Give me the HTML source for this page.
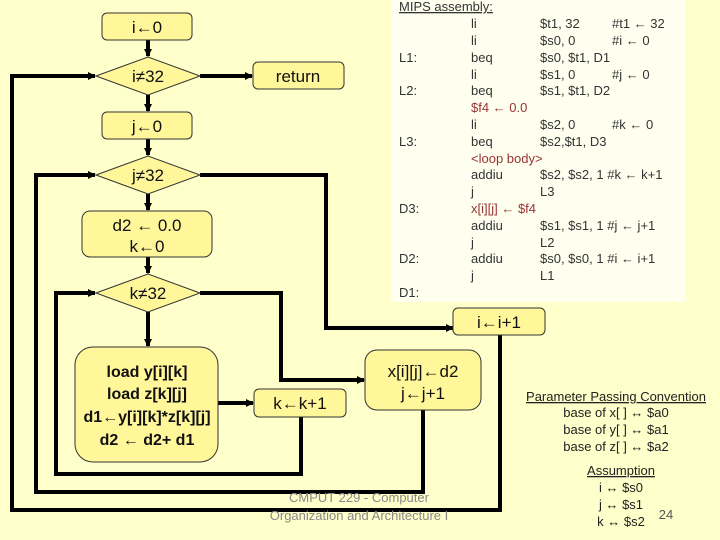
<!DOCTYPE html>
<html><head><meta charset="utf-8"><style>
html,body{margin:0;padding:0;background:#FFFFCC;}
svg{display:block;font-family:"Liberation Sans",sans-serif;}
</style></head><body>
<svg width="720" height="540" viewBox="0 0 720 540" xmlns="http://www.w3.org/2000/svg">
<defs><marker id="a" markerWidth="8" markerHeight="8" refX="7" refY="4" orient="auto" markerUnits="userSpaceOnUse"><path d="M0,0 L8,4 L0,8 z" fill="#000"/></marker></defs>
<rect width="720" height="540" fill="#FFFFCC"/>
<!-- code box -->
<rect x="391" y="0" width="294" height="302" fill="#FFFFF0"/>
<g font-size="13" fill="#333">
<text x="399" y="11" text-decoration="underline">MIPS assembly:</text>
<text y="28"><tspan x="471">li</tspan><tspan x="540">$t1, 32</tspan><tspan x="612">#t1 ← 32</tspan></text>
<text y="45"><tspan x="471">li</tspan><tspan x="540">$s0, 0</tspan><tspan x="612">#i ← 0</tspan></text>
<text y="62"><tspan x="399">L1:</tspan><tspan x="471">beq</tspan><tspan x="540">$s0, $t1, D1</tspan></text>
<text y="79"><tspan x="471">li</tspan><tspan x="540">$s1, 0</tspan><tspan x="612">#j ← 0</tspan></text>
<text y="95"><tspan x="399">L2:</tspan><tspan x="471">beq</tspan><tspan x="540">$s1, $t1, D2</tspan></text>
<text y="112" x="471" fill="#993333">$f4 ← 0.0</text>
<text y="129"><tspan x="471">li</tspan><tspan x="540">$s2, 0</tspan><tspan x="612">#k ← 0</tspan></text>
<text y="146"><tspan x="399">L3:</tspan><tspan x="471">beq</tspan><tspan x="540">$s2,$t1, D3</tspan></text>
<text y="163" x="471" fill="#993333">&lt;loop body&gt;</text>
<text y="179"><tspan x="471">addiu</tspan><tspan x="540">$s2, $s2, 1 #k ← k+1</tspan></text>
<text y="196"><tspan x="471">j</tspan><tspan x="540">L3</tspan></text>
<text y="213"><tspan x="399">D3:</tspan><tspan x="471" fill="#993333">x[i][j] ← $f4</tspan></text>
<text y="230"><tspan x="471">addiu</tspan><tspan x="540">$s1, $s1, 1 #j ← j+1</tspan></text>
<text y="247"><tspan x="471">j</tspan><tspan x="540">L2</tspan></text>
<text y="263"><tspan x="399">D2:</tspan><tspan x="471">addiu</tspan><tspan x="540">$s0, $s0, 1 #i ← i+1</tspan></text>
<text y="280"><tspan x="471">j</tspan><tspan x="540">L1</tspan></text>
<text y="297" x="399">D1:</text>
</g>
<!-- connectors -->
<g stroke="#000" stroke-width="4" fill="none">
<line x1="148" y1="40" x2="148" y2="56" marker-end="url(#a)"/>
<line x1="148" y1="95" x2="148" y2="111" marker-end="url(#a)"/>
<line x1="148" y1="139" x2="148" y2="155" marker-end="url(#a)"/>
<line x1="148" y1="194" x2="148" y2="210" marker-end="url(#a)"/>
<line x1="148" y1="257" x2="148" y2="273" marker-end="url(#a)"/>
<line x1="148" y1="312" x2="148" y2="346" marker-end="url(#a)"/>
<line x1="200" y1="76" x2="252" y2="76" marker-end="url(#a)"/>
<polyline points="500,335 500,510 12,510 12,76 95,76" marker-end="url(#a)"/>
<polyline points="423,410 423,492 36,492 36,175 95,175" marker-end="url(#a)"/>
<polyline points="301,417 301,474 56,474 56,293 95,293" marker-end="url(#a)"/>
<polyline points="200,175 326,175 326,328 453,328" marker-end="url(#a)"/>
<polyline points="200,293 281,293 281,380 364,380" marker-end="url(#a)"/>
<line x1="218" y1="403" x2="253" y2="403" marker-end="url(#a)"/>
</g>
<!-- nodes -->
<g fill="#FFF799" stroke="#333" stroke-width="1">
<rect x="102" y="13" width="90" height="27" rx="5"/>
<polygon points="96,76 148,57 200,76 148,95"/>
<rect x="253" y="62" width="91" height="27" rx="5"/>
<rect x="102" y="112" width="90" height="27" rx="5"/>
<polygon points="96,175 148,156 200,175 148,194"/>
<rect x="82" y="211" width="130" height="46" rx="8"/>
<polygon points="96,293 148,274 200,293 148,312"/>
<rect x="75" y="347" width="143" height="115" rx="18"/>
<rect x="254" y="389" width="92" height="28" rx="5"/>
<rect x="365" y="350" width="116" height="60" rx="12"/>
<rect x="453" y="308" width="92" height="27" rx="5"/>
</g>
<g font-size="17" fill="#111" text-anchor="middle">
<text x="147" y="33">i←0</text>
<text x="148" y="82">i≠32</text>
<text x="298" y="82">return</text>
<text x="147" y="132">j←0</text>
<text x="148" y="181">j≠32</text>
<text x="147" y="231">d2 ← 0.0</text>
<text x="147" y="252">k←0</text>
<text x="148" y="299">k≠32</text>
<text x="300" y="409">k←k+1</text>
<text x="423" y="377">x[i][j]←d2</text>
<text x="423" y="399">j←j+1</text>
<text x="499" y="328">i←i+1</text>
<g font-weight="bold" font-size="16">
<text x="147" y="377">load y[i][k]</text>
<text x="147" y="399">load z[k][j]</text>
<text x="147" y="422">d1←y[i][k]*z[k][j]</text>
<text x="147" y="445">d2 ← d2+ d1</text>
</g>
</g>
<g font-size="13" fill="#222" text-anchor="middle">
<text x="616" y="401" text-decoration="underline">Parameter Passing Convention</text>
<text x="616" y="417">base of x[ ] ↔ $a0</text>
<text x="616" y="434">base of y[ ] ↔ $a1</text>
<text x="616" y="451">base of z[ ] ↔ $a2</text>
<text x="621" y="475" text-decoration="underline">Assumption</text>
<text x="621" y="492">i ↔ $s0</text>
<text x="621" y="509">j ↔ $s1</text>
<text x="621" y="526">k ↔ $s2</text>
<text x="666" y="519" fill="#555">24</text>
</g>
<g font-size="13" fill="#888" text-anchor="middle">
<text x="359" y="502">CMPUT 229 - Computer</text>
<text x="359" y="520">Organization and Architecture I</text>
</g>
</svg>
</body></html>
